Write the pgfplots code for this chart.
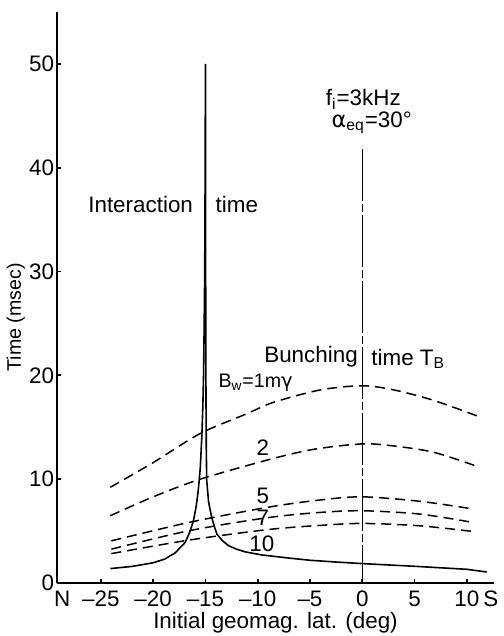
\documentclass[border=0pt]{standalone}
\usepackage{pgfplots}
\pgfplotsset{compat=1.18}
\usepackage{fontspec}
\setmainfont{Liberation Sans}
\newfontfamily\grk{DejaVu Sans}

\begin{document}
\fontsize{11.2}{13}\selectfont
\begin{tikzpicture}
\begin{axis}[
  scale only axis, width=218.5pt, height=285.5pt,
  xmin=-29.2, xmax=12.6, ymin=0, ymax=55,
  axis x line*=bottom, axis y line*=left,
  axis line style={line width=1.2pt},
  xtick={-25,-20,...,10},
  xticklabels={--25,--20,--15,--10,--5,0,5,10},
  extra x ticks={-28.7,12.3},
  extra x tick labels={N,S},
  extra x tick style={major tick length=0pt},
  ytick={0,10,...,50},
  yticklabel style={xshift=2.5pt},
  tick align=inside, major tick length=2.2pt,
  tick style={line width=0.9pt, black},
  /pgf/number format/assume math mode=true,
  xlabel={Initial geomag. lat. (deg)},
  ylabel={\fontsize{9.8}{11}\selectfont Time (msec)},
  xlabel style={at={(rel axis cs:0.5,-0.070)}, anchor=center},
  ylabel style={at={(rel axis cs:-0.094,0.465)}, anchor=center},
  clip=false,
]
% Interaction time
\addplot[black, line width=0.8pt] coordinates {
 (-24.1,1.39) (-22,1.6) (-20,1.95) (-18.9,2.3) (-17.9,2.9) (-16.95,3.9)
 (-16.5,4.9) (-16.15,6.0) (-15.9,7.3) (-15.7,8.8) (-15.5,11) (-15.35,14.0)
 (-15.25,17) (-15.18,20) (-15.12,25) (-15.07,30) (-15.04,37) (-15.02,43) (-15.0,50)
 (-14.98,30) (-14.95,18) (-14.92,13) (-14.88,9.9) (-14.7,7.8) (-14.4,6.3)
 (-14.1,5.3) (-13.9,4.7) (-13.4,4.1) (-12.8,3.6) (-12.0,3.25) (-11.2,3.0) (-9.6,2.7)
 (-7,2.4) (-5,2.19) (-2.5,2.02) (0,1.87) (5,1.61) (10,1.32) (11.9,1.06)
};
% Bunching times
\addplot[black, line width=0.75pt, dash pattern=on 5pt off 3pt, smooth] coordinates {
 (-24.1,9.22) (-20,11.6) (-15.5,14.4) (-11.05,16.3) (-8.5,17.4) (-4,18.6) (0,19.0) (3,18.6) (6.8,17.6) (11.1,16.05)
};
\addplot[black, line width=0.75pt, dash pattern=on 5pt off 3pt, smooth] coordinates {
 (-24.1,6.48) (-20,8.3) (-15.5,10.0) (-8.5,12.0) (-4.5,12.9) (0,13.4) (3,13.2) (6.8,12.6) (10.8,11.3)
};
\addplot[black, line width=0.75pt, dash pattern=on 5pt off 3pt, smooth] coordinates {
 (-24.0,4.06) (-16.6,5.83) (-9,7.3) (-4,8.0) (0,8.3) (5.5,7.87) (10.6,7.13)
};
\addplot[black, line width=0.75pt, dash pattern=on 5pt off 3pt, smooth] coordinates {
 (-24.0,3.26) (-16.6,5.03) (-9,6.3) (-4,6.8) (0,6.96) (5.5,6.64) (10.6,5.83)
};
\addplot[black, line width=0.75pt, dash pattern=on 5pt off 3pt, smooth] coordinates {
 (-24.0,2.83) (-16.6,4.13) (-9,5.15) (-4,5.55) (0,5.74) (5.5,5.51) (10.6,4.96)
};
% vertical line at 0
\addplot[black, line width=0.75pt, dash pattern=on 26pt off 1.5pt on 4pt off 1.5pt] coordinates {(0,41.8) (0,0)};

\node at (axis cs:-21.2,36.5) {Interaction};
\node at (axis cs:-12.0,36.5) {time};
\node at (axis cs:-4.9,21.8) {Bunching};
\node at (axis cs:4.4,21.6) {time T\textsubscript{B}};
\node at (axis cs:-10.2,19.3) {\fontsize{9.8}{11}\selectfont B\textsubscript{w}=1m{\grk γ}};
\node at (axis cs:-9.5,13.0) {2};
\node at (axis cs:-9.5,8.4) {5};
\node at (axis cs:-9.5,6.3) {7};
\node at (axis cs:-9.6,3.8) {10};
\node at (axis cs:0.1,46.6) {f\textsubscript{i}=3kHz};
\node at (axis cs:0.9,44.3) {{\grk α}\textsubscript{eq}=30°};

\coordinate (bbSW) at (rel axis cs:-0.1304,-0.0928);
\coordinate (bbNE) at (rel axis cs:1.0206,1.021);
\end{axis}
\pgfresetboundingbox
\path[use as bounding box] (bbSW) rectangle (bbNE);
\end{tikzpicture}
\end{document}
